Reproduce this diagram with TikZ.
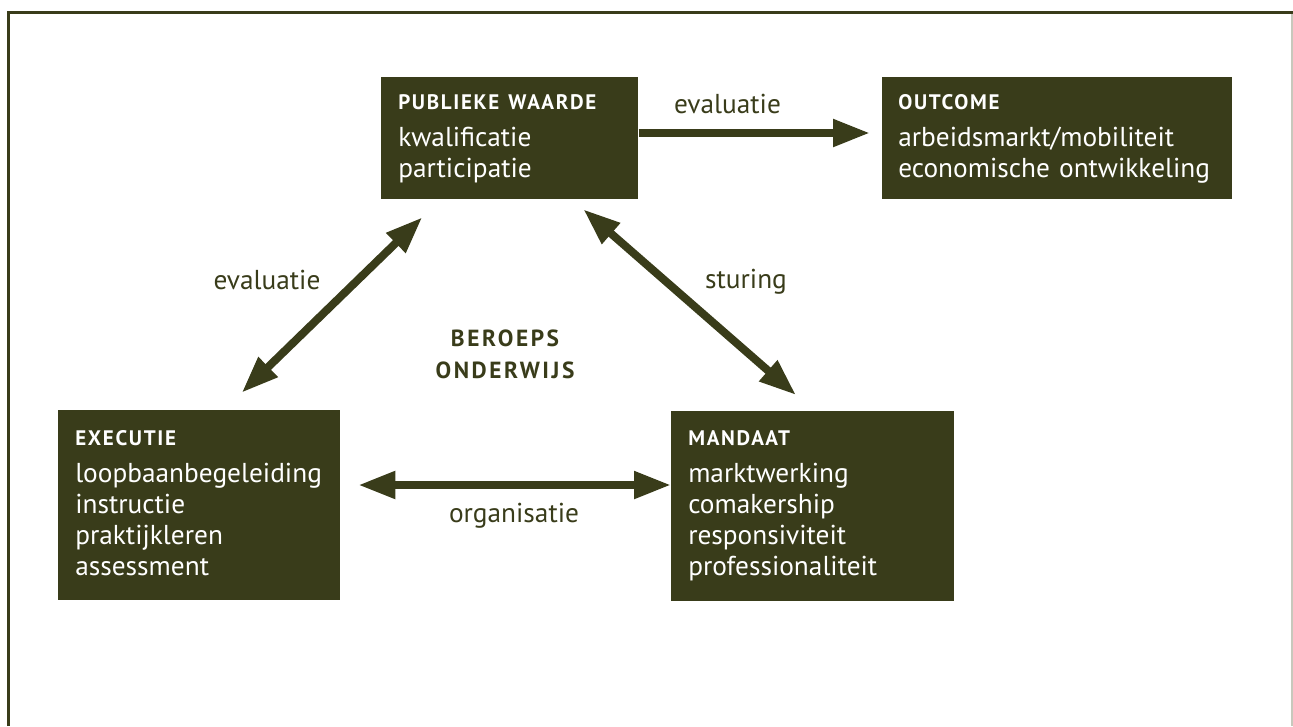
\documentclass[tikz,border=0pt]{standalone}
\usepackage{fontspec}
\setmainfont{PT Sans}
\newfontfamily\headfont[LetterSpace=8]{PT Sans Bold}
\newfontfamily\centerfont[LetterSpace=11]{PT Sans Bold}
\usetikzlibrary{arrows.meta,calc}
\definecolor{darkolive}{RGB}{57,60,26}
\definecolor{framegray}{RGB}{200,200,188}
\def\pxu{0.75pt}
\newcommand\hd[1]{{\headfont\fontsize{15.75pt}{18pt}\selectfont #1}}
\tikzset{
  box/.style={fill=darkolive, inner sep=0pt, anchor=north west},
  boxtext/.style={text=white, anchor=base west, inner sep=0pt, align=left,
    text width=330*\pxu, font=\fontsize{20.5pt}{23.25pt}\selectfont},
  lbl/.style={text=darkolive, anchor=base, inner sep=0pt,
    font=\fontsize{20.5pt}{23.25pt}\selectfont},
  centerlbl/.style={text=darkolive, anchor=base, inner sep=0pt, align=center,
    text width=220*\pxu, font=\centerfont\fontsize{17.5pt}{24pt}\selectfont},
  tipstyle/.tip={Triangle[length=27.75pt,width=19.5pt]},
  arr/.style={draw=darkolive, line width=6pt, -tipstyle},
  darr/.style={draw=darkolive, line width=6pt, tipstyle-tipstyle}
}
\begin{document}
\begin{tikzpicture}[x=0.75pt,y=-0.75pt]
\useasboundingbox (0,0) rectangle (1293,726);
% frame
\draw[darkolive, line width=1.6pt] (8.5,726) -- (8.5,12.5) -- (1293,12.5);
\draw[framegray, line width=0.8pt] (1292,13.5) -- (1292,726);

% boxes
\node[box, minimum width=257*\pxu, minimum height=122*\pxu] (pw) at (381,77) {};
\node[box, minimum width=350*\pxu, minimum height=122*\pxu] (oc) at (882,77) {};
\node[box, minimum width=282*\pxu, minimum height=190*\pxu] (ex) at (58,410) {};
\node[box, minimum width=283*\pxu, minimum height=190*\pxu] (ma) at (671,411) {};

% box texts
\node[boxtext] (pwt) at (398,109.5) {\hd{PUBLIEKE WAARDE}\\[4.5pt]kwalificatie\\participatie};
\node[boxtext] (oct) at (898,109.5) {\hd{OUTCOME}\\[4.5pt]arbeidsmarkt/mobiliteit\\economische ontwikkeling};
\node[boxtext] (ext) at (75,445.5) {\hd{EXECUTIE}\\[4.5pt]loopbaanbegeleiding\\instructie\\praktijkleren\\assessment};
\node[boxtext] (mat) at (688,445.5) {\hd{MANDAAT}\\[4.5pt]marktwerking\\comakership\\responsiviteit\\professionaliteit};

% centre label
\node[centerlbl] (bo) at (505,346) {BEROEPS\\ONDERWIJS};

% free arrow ends
\coordinate (t1) at (870,133);
\coordinate (l1) at (241.7,392.7);
\coordinate (l2) at (422.3,217.3);
\coordinate (r1) at (583.3,209.3);
\coordinate (r2) at (796,395);
\coordinate (b1) at (358.3,485);

% connectors
\draw[arr] (pw.east |- t1) -- (t1);
\draw[darr] (l1) -- (l2);
\draw[darr] (r1) -- (r2);
\draw[darr] (b1) -- (ma.west |- b1);

% connector labels
\node[lbl] (ev1) at (727.5,113.5) {evaluatie};
\node[lbl] (ev2) at (267,289) {evaluatie};
\node[lbl] (st) at (746,288) {sturing};
\node[lbl] (org) at (514,522.7) {organisatie};
\end{tikzpicture}
\end{document}
